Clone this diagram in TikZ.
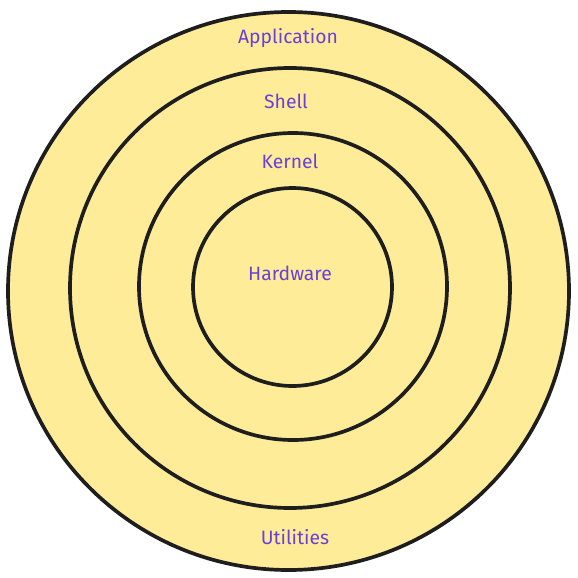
\documentclass[tikz,border=0pt]{standalone}
\usepackage{fontspec}
\setmainfont{Fira Sans}
\definecolor{ringfill}{RGB}{255, 236, 153}
\definecolor{ringline}{RGB}{30, 30, 30}
\definecolor{layertext}{RGB}{103, 65, 217}
\usetikzlibrary{shapes.geometric, positioning}

\begin{document}
\begin{tikzpicture}[
        x=0.02cm, y=-0.02cm,
        ring/.style={draw=ringline, fill=ringfill, ellipse, line width=2.1pt, inner sep=0pt},
        layer/.style={text=layertext, font=\fontsize{11}{13}\selectfont}
    ]
        \useasboundingbox (0,0) rectangle (578,578);

        % Rings from outside to inside
        \node[ring, minimum width=561*0.02cm, minimum height=558*0.02cm] (app) at (288.5,291) {};
        \node[ring, minimum width=440*0.02cm, minimum height=440*0.02cm] (shell) at (290,288) {};
        \node[ring, minimum width=308*0.02cm, minimum height=307*0.02cm] (kernel) at (293,286.5) {};
        \node[ring, minimum width=199*0.02cm, minimum height=198*0.02cm] (hw) at (292.5,287) {};

        % Layer names
        \node[layer] (applabel) at (288,38) {Application};
        \node[layer] (shelllabel) at (286,101) {Shell};
        \node[layer] (kernellabel) at (290,161) {Kernel};
        \node[layer] (hwlabel) at (290,273) {Hardware};
        \node[layer] (utillabel) at (295,537) {Utilities};
    \end{tikzpicture}
\end{document}
